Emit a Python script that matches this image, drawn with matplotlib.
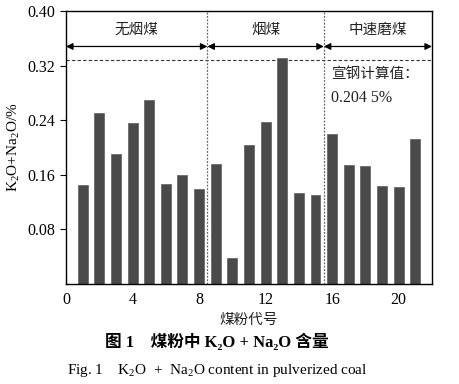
import matplotlib
matplotlib.use("Agg")
import matplotlib.pyplot as plt

plt.rcParams['font.family'] = ['Liberation Serif', 'Noto Sans CJK SC', 'DejaVu Sans']
plt.rcParams['mathtext.fontset'] = 'custom'
plt.rcParams['mathtext.rm'] = 'Liberation Serif'
plt.rcParams['mathtext.it'] = 'Liberation Serif:italic'
plt.rcParams['mathtext.bf'] = 'Liberation Serif:bold'

coal_ids = list(range(1, 22))
values = [0.145, 0.251, 0.190, 0.236, 0.270, 0.147, 0.160, 0.139, 0.176, 0.038,
          0.204, 0.238, 0.331, 0.134, 0.130, 0.220, 0.174, 0.173, 0.143, 0.142, 0.212]
group_names = ['无烟煤', '烟煤', '中速磨煤']
group_bounds = [0, 8.5, 15.5, 22]
ref_value = 0.3285
xticks = [0, 4, 8, 12, 16, 20]
yticks = [0.08, 0.16, 0.24, 0.32, 0.40]

fig = plt.figure(figsize=(4.6, 3.84), dpi=100)
ax = fig.add_axes([0.1435, 0.2604, 0.7955, 0.711])

ax.bar(coal_ids, values, width=0.6, color='#4a4a4a', edgecolor='#6a6a6a', linewidth=0.6, zorder=2)
ax.axhline(ref_value, color='#333333', linestyle=(0, (3, 2)), linewidth=0.8, zorder=1)
for b in group_bounds[1:-1]:
    ax.axvline(b, color='#666666', linestyle=(0, (1.5, 1.2)), linewidth=0.9, zorder=1)

arrow_y = 0.348
label_y = 0.372
for i, name in enumerate(group_names):
    x0, x1 = group_bounds[i], group_bounds[i + 1]
    ax.annotate('', xy=(x1, arrow_y), xytext=(x0, arrow_y),
                arrowprops=dict(arrowstyle='<|-|>', color='black', lw=0.9,
                                mutation_scale=10, shrinkA=0, shrinkB=0))
    ax.text((x0 + x1) / 2, label_y, name, ha='center', va='center', fontsize=10.5,
            family=['Noto Sans CJK SC'], color='#222222')

ax.text(15.95, 0.318, '宣钢计算值：', ha='left', va='top', fontsize=10.5,
        family=['Noto Sans CJK SC'], color='#222222')
ax.text(15.95, 0.284, '0.204 5%', ha='left', va='top', fontsize=11.5,
        family=['Liberation Serif'], color='#222222')

ax.set_xlim(0, 22)
ax.set_ylim(0, 0.40)
ax.set_xticks(xticks)
ax.set_yticks(yticks)
ax.set_yticklabels([f'{v:.2f}' for v in yticks])
ax.tick_params(axis='x', direction='in', length=4, labelsize=11.5, pad=6)
ax.tick_params(axis='y', direction='out', length=4, labelsize=11.5)
for s in ax.spines.values():
    s.set_linewidth(1.0)

ax.set_ylabel('K$_2$O+Na$_2$O/%', fontsize=11, labelpad=4)
ax.set_xlabel('煤粉代号', fontsize=10.5, family=['Noto Sans CJK SC'], labelpad=3, color='#222222')

fig.text(0.472, 0.108, '图 1    煤粉中 K₂O + Na₂O 含量', ha='center', va='center',
         fontsize=12, fontweight='bold', family=['Liberation Serif', 'Noto Sans CJK SC'])
fig.text(0.472, 0.036, 'Fig. 1    K$_2$O  +  Na$_2$O content in pulverized coal', ha='center', va='center',
         fontsize=11)

fig.savefig('out.png', dpi=100)
